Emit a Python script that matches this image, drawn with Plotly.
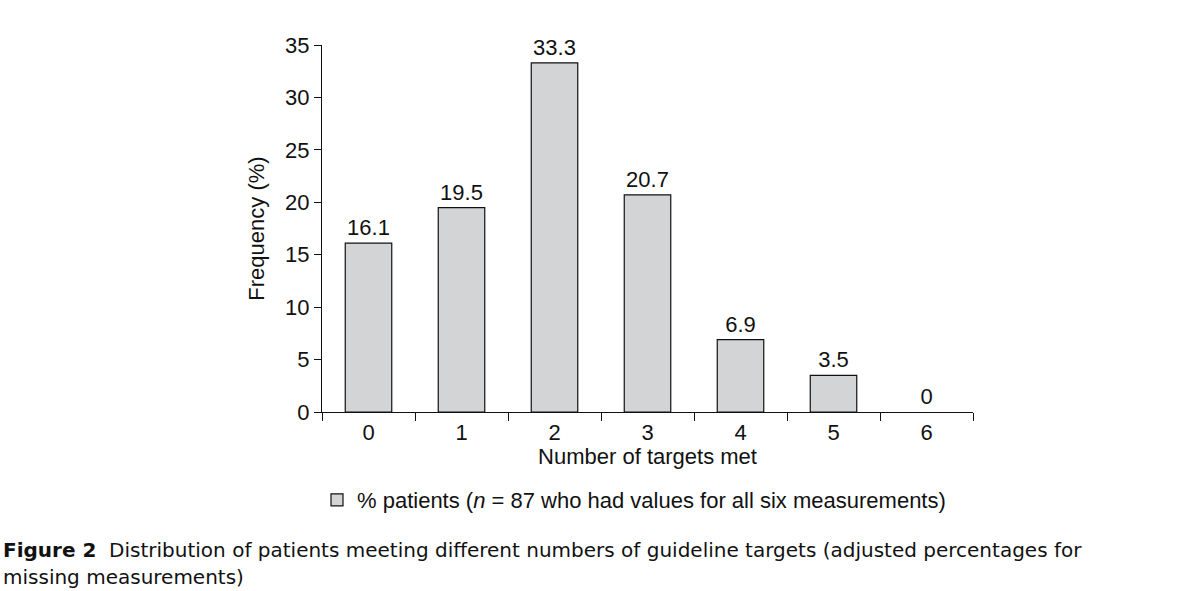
import plotly.graph_objects as go

categories = ["0", "1", "2", "3", "4", "5", "6"]
percent_patients = [16.1, 19.5, 33.3, 20.7, 6.9, 3.5, 0]
value_labels = ["16.1", "19.5", "33.3", "20.7", "6.9", "3.5", "0"]
y_ticks = [0, 5, 10, 15, 20, 25, 30, 35]

FONT = "Liberation Sans, Arial, sans-serif"
FS = 22
INK = "#111"

L, R, T, B = 322, 231, 45, 179
PH = 591 - T - B
PW = 1204 - L - R


def py(ypx):
    return (591 - B - ypx) / PH


def px(xpx):
    return (xpx - L) / PW


line_widths = [0 if v == 0 else 1.2 for v in percent_patients]

fig = go.Figure()
fig.add_trace(go.Bar(
    x=categories,
    y=percent_patients,
    text=value_labels,
    textposition="outside",
    textfont=dict(family=FONT, size=FS, color=INK),
    cliponaxis=False,
    marker=dict(color="#d3d4d6", line=dict(color=INK, width=line_widths)),
    name="% patients (<i>n</i> = 87 who had values for all six measurements)",
    showlegend=True,
))

fig.update_layout(
    width=1204, height=591,
    margin=dict(l=L, r=R, t=T, b=B),
    plot_bgcolor="white", paper_bgcolor="white",
    bargap=0.5,
    font=dict(family=FONT, size=FS, color=INK),
    showlegend=True,
    legend=dict(
        orientation="h", x=px(634), xanchor="center", y=py(500), yanchor="middle",
        font=dict(family=FONT, size=FS, color=INK),
        bgcolor="rgba(0,0,0,0)",
    ),
    xaxis=dict(
        type="category", range=[-0.5, 6.5],
        showline=True, linecolor=INK, linewidth=1.2,
        ticks="outside", ticklen=8, tickcolor=INK, tickwidth=1.2,
        tickson="boundaries",
        showgrid=False, zeroline=False,
        title=dict(text="Number of targets met", standoff=2,
                   font=dict(family=FONT, size=FS, color=INK)),
        tickfont=dict(family=FONT, size=FS, color=INK),
    ),
    yaxis=dict(
        range=[0, 35], tickvals=y_ticks,
        showline=True, linecolor=INK, linewidth=1.2,
        ticks="outside", ticklen=7, tickcolor=INK, tickwidth=1.2,
        showgrid=False, zeroline=False,
        title=dict(text="Frequency (%)", standoff=14,
                   font=dict(family=FONT, size=FS, color=INK)),
        tickfont=dict(family=FONT, size=FS, color=INK),
    ),
)

caption_lines = [
    "<b>Figure 2</b>  Distribution of patients meeting different numbers of guideline targets (adjusted percentages for",
    "missing measurements)",
]
caption_y = [550, 577]
for txt, yy in zip(caption_lines, caption_y):
    fig.add_annotation(
        xref="paper", yref="paper",
        x=px(1), y=py(yy),
        xanchor="left", yanchor="middle", align="left",
        showarrow=False, text=txt,
        font=dict(family="DejaVu Sans, sans-serif", size=20, color=INK),
    )

fig.write_html("out.html", config={"displayModeBar": False},
               post_script="document.body.style.margin='0';")
